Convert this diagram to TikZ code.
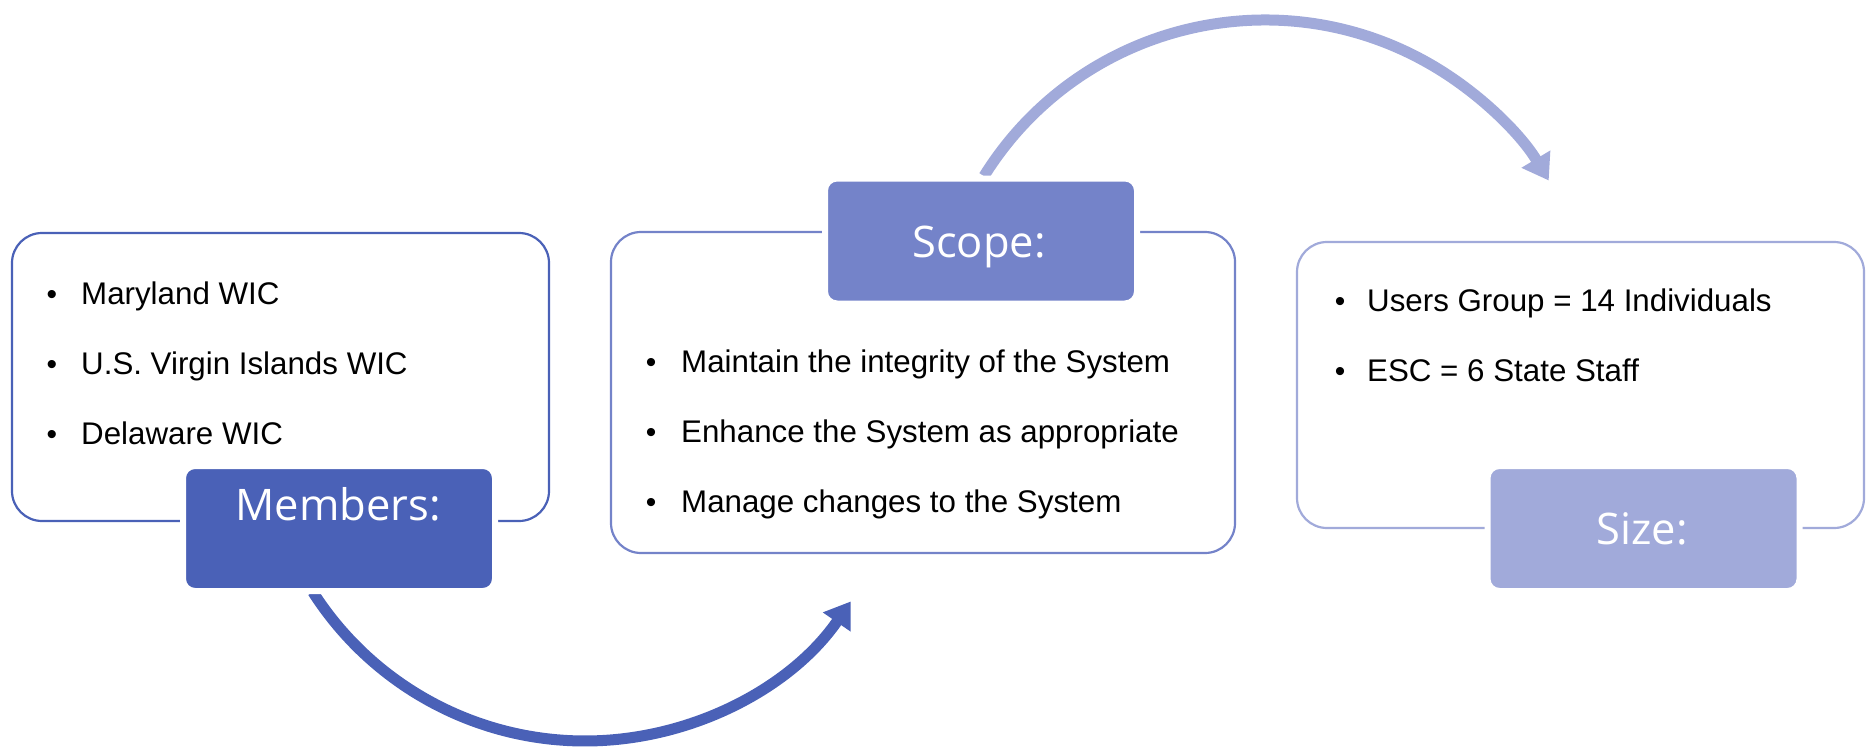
\documentclass[tikz,border=0pt]{standalone}
\usepackage{fontspec}
\setmainfont{Liberation Sans}
\newfontfamily\lblfont{Open Sans}
\usetikzlibrary{arrows.meta}
\definecolor{cA}{HTML}{4A61B7}
\definecolor{cB}{HTML}{7483C9}
\definecolor{cC}{HTML}{A1AADA}
\begin{document}
\begin{tikzpicture}[x=1pt,y=-1pt,
  cbox/.style={draw, line width=2.2pt, rounded corners=30pt, inner sep=0pt},
  lbox/.style={draw=white, line width=6pt, rounded corners=12pt, minimum width=312pt, minimum height=125pt, inner sep=0pt},
  ltxt/.style={text=white, font=\lblfont\fontsize{43.5}{50}\selectfont, anchor=base, inner sep=0pt},
  btxt/.style={font=\fontsize{31.3}{36}\selectfont, anchor=base west, inner sep=0pt},
  bdot/.style={font=\fontsize{30}{36}\selectfont, anchor=base, inner sep=0pt},
  arr/.style={line width=11pt, -{Triangle[width=32pt,length=25pt]}}]
\useasboundingbox (0,0) rectangle (1866,747);
% arrows
\coordinate (bc) at (585,418);
\coordinate (bs) at ([shift={(147.4:323)}]bc);
\draw[arr, cA] (bs) arc[start angle=147.4, end angle=34.6, radius=323];
\coordinate (tc) at (1265,351);
\coordinate (ts) at ([shift={(-148.1:331)}]tc);
\draw[arr, cC] (ts) arc[start angle=-148.1, end angle=-31, radius=331];
% content boxes
\node[cbox, draw=cA, minimum width=537pt, minimum height=288pt] (box1) at (280.5,377) {};
\node[cbox, draw=cB, minimum width=624pt, minimum height=321pt] (box2) at (923,392.5) {};
\node[cbox, draw=cC, minimum width=567pt, minimum height=286pt] (box3) at (1580.5,385) {};
% label boxes
\node[lbox, fill=cA] (mem) at (339,528.5) {};
\node[ltxt] (memt) at (338,520) {Members:};
\node[lbox, fill=cB] (scope) at (981,241) {};
\node[ltxt] (scopet) at (979,257) {Scope:};
\node[lbox, fill=cC] (size) at (1643.5,528.5) {};
\node[ltxt] (sizet) at (1642,544) {Size:};
% bullets box 1
\node[bdot] (d11) at (52,304) {•};
\node[btxt] (t11) at (81,304) {Maryland WIC};
\node[bdot] (d12) at (52,374) {•};
\node[btxt] (t12) at (81,374) {U.S. Virgin Islands WIC};
\node[bdot] (d13) at (52,444) {•};
\node[btxt] (t13) at (81,444) {Delaware WIC};
% bullets box 2
\node[bdot] (d21) at (651,372) {•};
\node[btxt] (t21) at (681,372) {Maintain the integrity of the System};
\node[bdot] (d22) at (651,442) {•};
\node[btxt] (t22) at (681,442) {Enhance the System as appropriate};
\node[bdot] (d23) at (651,512) {•};
\node[btxt] (t23) at (681,512) {Manage changes to the System};
% bullets box 3
\node[bdot] (d31) at (1340,311) {•};
\node[btxt] (t31) at (1367,311) {Users Group = 14 Individuals};
\node[bdot] (d32) at (1340,381) {•};
\node[btxt] (t32) at (1367,381) {ESC = 6 State Staff};
\end{tikzpicture}
\end{document}
